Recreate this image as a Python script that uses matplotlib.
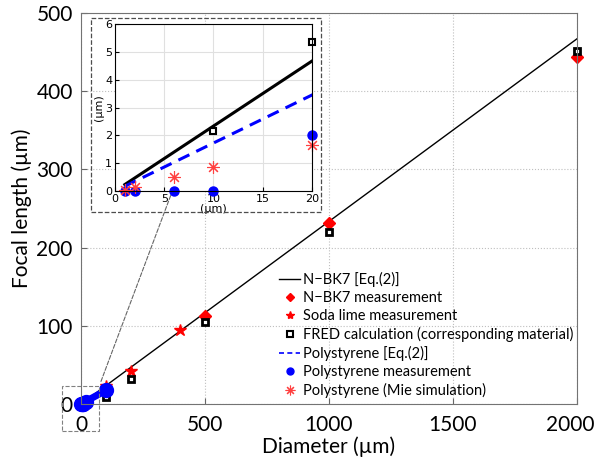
import numpy as np
import matplotlib.pyplot as plt
import matplotlib.transforms as mtransforms
from matplotlib.patches import Rectangle

# dados
d_linha = np.array([1, 20, 2000])
k_bk7 = 0.2335          # f/D para N-BK7 (Eq.2)
k_ps = 0.1725           # f/D para poliestireno (Eq.2)

d_bk7_med = np.array([500, 1000, 2000])
f_bk7_med = np.array([112, 231, 444])

d_soda = np.array([100, 200, 400])
f_soda = np.array([23, 42, 95])

d_fred = np.array([10, 20, 100, 200, 500, 1000, 2000])
f_fred = np.array([2.15, 5.35, 9, 32, 105, 220, 451])

d_ps_linha = np.array([1, 20, 100])
d_ps_med = np.array([1, 2, 6, 10, 20, 100])
f_ps_med = np.array([0.0, 0.0, 0.0, 0.0, 2.0, 18])

d_mie = np.array([1, 2, 6, 10, 20])
f_mie = np.array([0.05, 0.15, 0.5, 0.85, 1.65])

rotulos = ['N\u2212BK7 [Eq.(2)]', 'N\u2212BK7 measurement', 'Soda lime measurement',
           'FRED calculation (corresponding material)', 'Polystyrene [Eq.(2)]',
           'Polystyrene measurement', 'Polystyrene (Mie simulation)']

asterisco = (8, 2, 0)

plt.rcParams['font.family'] = ['Lato', 'DejaVu Sans']

fig = plt.figure(figsize=(5.97, 4.57), dpi=100)
ax = fig.add_axes([0.1357, 0.116, 0.8308, 0.8556])

ax.plot(d_linha, k_bk7 * d_linha, color='k', lw=1)
ax.plot(d_mie, f_mie, marker=asterisco, color='#ff4040', mew=1, ms=9, ls='none', clip_on=False)
ax.plot(d_bk7_med, f_bk7_med, 'D', color='red', ms=6, ls='none', clip_on=False)
ax.plot(d_soda, f_soda, '*', color='red', ms=9, ls='none', clip_on=False)
ax.plot(d_fred, f_fred, 's', mfc='white', mec='k', mew=2, ms=5, ls='none', clip_on=False)
ax.plot(d_ps_linha, k_ps * d_ps_linha, '--', color='blue', lw=5, clip_on=False)
ax.plot(d_ps_med, f_ps_med, 'o', color='blue', ms=10, ls='none', clip_on=False)

ax.set_xlim(0, 2000)
ax.set_ylim(0, 500)
ax.set_xticks([0, 500, 1000, 1500, 2000])
ax.set_yticks([0, 100, 200, 300, 400, 500])
ax.tick_params(labelsize=15, direction='in', length=4, color='0.4')
ax.tick_params(axis='x', pad=8)
ax.tick_params(axis='y', pad=6)
ax.grid(True, ls=':', color='0.75', lw=0.8)
for s in ax.spines.values():
    s.set_color('0.45')
ax.set_xlabel('Diameter (\u00b5m)', fontsize=15, labelpad=1)
ax.set_ylabel('Focal length (\u00b5m)', fontsize=15, labelpad=3)

# o ultimo rotulo do eixo x fica um pouco para a esquerda, como no original
fig.canvas.draw()
ultimo = ax.get_xticklabels()[-1]
ultimo.set_transform(ultimo.get_transform() +
                     mtransforms.ScaledTranslation(-7 / 100, 0, fig.dpi_scale_trans))

# legenda com marcadores menores
l1, = ax.plot([], [], color='k', lw=1)
l2, = ax.plot([], [], 'D', color='red', ms=4)
l3, = ax.plot([], [], '*', color='red', ms=6)
l4, = ax.plot([], [], 's', mfc='white', mec='k', mew=1.5, ms=4)
l5, = ax.plot([], [], '--', color='blue', lw=1.2, dashes=(3, 2))
l6, = ax.plot([], [], 'o', color='blue', ms=5)
l7, = ax.plot([], [], marker=asterisco, color='#ff4040', mew=0.8, ms=7, ls='none')
ax.legend([l1, l2, l3, l4, l5, l6, l7], rotulos, loc='upper left', frameon=False,
          bbox_to_anchor=(279 / 597, 1 - 272 / 457), bbox_transform=fig.transFigure,
          fontsize=10.5, handlelength=1.45, handletextpad=0.2, labelspacing=0.27,
          borderpad=0, borderaxespad=0)

# caixa tracejada na origem e seta para o detalhe
fig.patches.append(Rectangle((62 / 597, 1 - 431 / 457), 37 / 597, 45 / 457,
                             transform=fig.transFigure, fill=False, ls='--',
                             ec='0.5', lw=0.8))
fig.patches.append(Rectangle((91 / 597, 1 - 212 / 457), 230 / 597, 194 / 457,
                             transform=fig.transFigure, fill=False, ls='--',
                             ec='0.3', lw=0.9))
ax.annotate('', xy=(178 / 597, 1 - 176 / 457), xytext=(100 / 597, 1 - 384 / 457),
            xycoords='figure fraction', textcoords='figure fraction',
            arrowprops=dict(arrowstyle='-|>', ls='--', color='0.4', lw=0.8,
                            mutation_scale=6))

# detalhe
ins = fig.add_axes([0.1926, 0.582, 0.33, 0.3654])
ins.plot(d_linha, k_bk7 * d_linha, color='k', lw=2.2)
ins.plot(d_ps_linha, k_ps * d_ps_linha, '--', color='blue', lw=2.2, dashes=(4, 2.5))
ins.plot(d_fred, f_fred, 's', mfc='white', mec='k', mew=1.5, ms=5, ls='none', clip_on=False)
ins.plot(d_ps_med, f_ps_med, 'o', color='blue', ms=6.5, ls='none', clip_on=False)
ins.plot(d_mie, f_mie, marker=asterisco, color='#ff4040', mew=0.8, ms=9, ls='none', clip_on=False)
ins.set_xlim(0, 20)
ins.set_ylim(0, 6)
ins.set_xticks([0, 5, 10, 15, 20])
ins.set_yticks(range(7))
ins.tick_params(labelsize=8, direction='in', length=3, pad=2)
for lab in ins.get_xticklabels() + ins.get_yticklabels():
    lab.set_family('DejaVu Sans')
ins.grid(True, color='0.88', lw=0.8)
ins.set_axisbelow(True)
ins.set_xlabel('(\u00b5m)', fontsize=8, labelpad=0, family='DejaVu Sans')
ins.set_ylabel('(\u00b5m)', fontsize=8, labelpad=1, family='DejaVu Sans')

fig.savefig('out.png', dpi=100)
